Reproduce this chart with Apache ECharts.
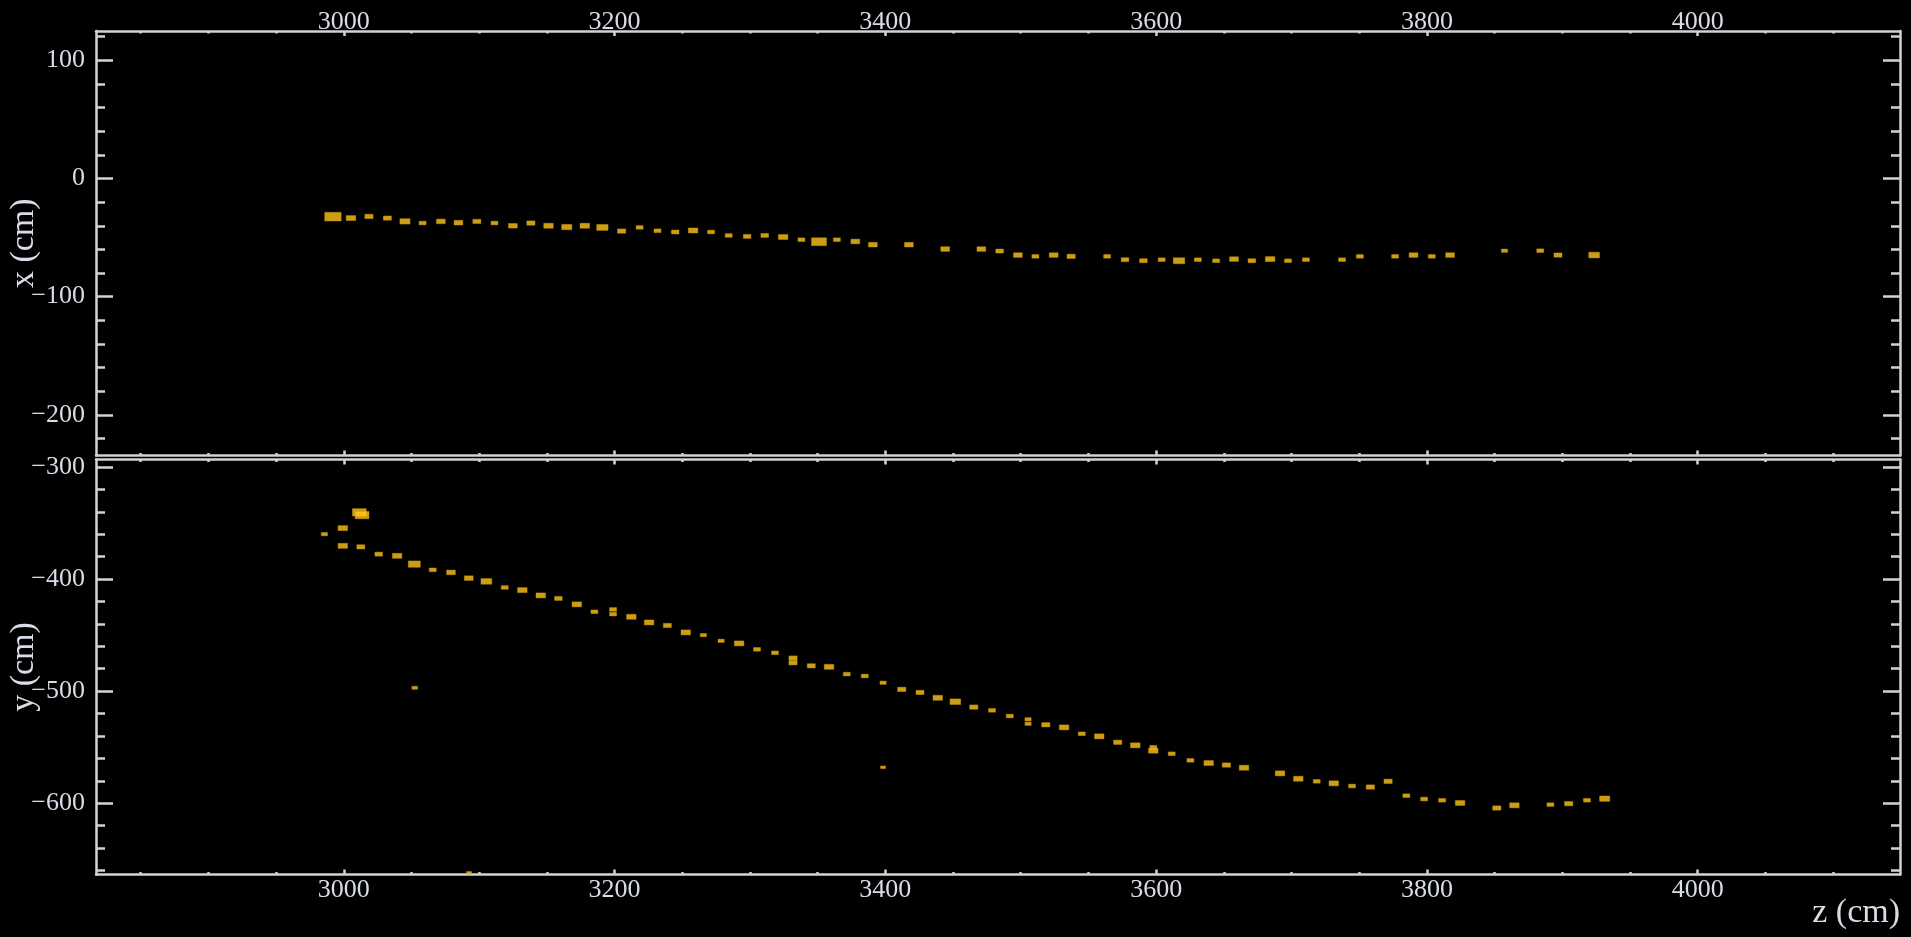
<!DOCTYPE html>
<html>
<head>
<meta charset="utf-8">
<script src="https://cdn.jsdelivr.net/npm/echarts@6/dist/echarts.min.js"></script>
<style>
  html, body { margin: 0; padding: 0; background: #000; }
  #chart { width: 1911px; height: 937px; }
</style>
</head>
<body>
<div id="chart"></div>
<script>
// Hits seen in the z–x view: z (cm), x (cm), relative charge
const xzZ = [2992.0, 3005.3, 3018.6, 3032.2, 3045.2, 3058.2, 3071.7, 3084.7, 3098.3, 3111.3,
             3124.9, 3138.2, 3151.2, 3164.7, 3178.0, 3191.0, 3205.2, 3218.5, 3231.7, 3244.8,
             3258.0, 3271.3, 3284.3, 3297.9, 3310.9, 3324.5, 3338.0, 3351.0, 3364.2, 3377.8,
             3390.8, 3417.4, 3444.2, 3470.9, 3484.4, 3497.9, 3510.8, 3524.3, 3537.2, 3563.8,
             3577.0, 3590.6, 3604.1, 3616.9, 3630.8, 3644.3, 3657.5, 3670.7, 3684.2, 3697.4,
             3710.6, 3737.3, 3750.5, 3776.5, 3790.1, 3803.6, 3817.1, 3857.3, 3883.7, 3896.8,
             3923.5];
const xzX = [-32.3, -33.5, -32.1, -33.5, -36.3, -37.7, -36.3, -37.4, -36.3, -37.7,
             -40.0, -37.7, -40.0, -41.1, -40.0, -41.4, -44.5, -41.4, -44.2, -45.3,
             -44.0, -45.3, -48.2, -49.0, -48.2, -49.5, -51.8, -53.5, -51.8, -53.3,
             -56.0, -56.0, -59.7, -59.7, -61.4, -64.8, -65.9, -64.8, -65.9, -65.9,
             -68.7, -69.6, -68.7, -69.6, -68.7, -69.6, -68.2, -69.6, -68.2, -69.6,
             -68.7, -68.7, -65.9, -65.9, -64.8, -65.9, -64.8, -61.1, -61.1, -64.8,
             -64.8];
const xzQ = [84, 28, 21, 20, 32, 15, 24, 24, 20, 15,
             24, 21, 28, 32, 28, 40, 21, 15, 15, 18,
             28, 15, 15, 18, 18, 28, 15, 70, 15, 24,
             24, 24, 24, 24, 18, 24, 15, 24, 21, 15,
             18, 18, 15, 40, 15, 15, 24, 18, 28, 15,
             15, 15, 15, 15, 24, 15, 24, 12, 15, 20,
             36];

// Hits seen in the z–y view: z (cm), y (cm), relative charge
const yzZ = [2985.7, 2999.3, 3011.5, 3013.5, 2999.3, 3012.6, 3025.8, 3039.4, 3052.1, 3065.7,
             3079.2, 3092.3, 3105.3, 3118.9, 3131.9, 3145.5, 3158.5, 3172.1, 3185.1, 3198.9,
             3198.9, 3212.4, 3225.5, 3239.0, 3252.6, 3265.6, 3278.7, 3292.0, 3305.2, 3318.5,
             3331.8, 3331.8, 3345.3, 3358.4, 3371.5, 3384.8, 3398.3, 3412.1, 3425.6, 3438.7,
             3451.7, 3465.3, 3478.8, 3491.9, 3505.4, 3505.4, 3518.5, 3532.0, 3545.1, 3558.0,
             3571.6, 3584.6, 3597.9, 3597.9, 3611.5, 3625.3, 3638.8, 3651.9, 3664.9, 3691.5,
             3705.0, 3718.6, 3731.2, 3744.7, 3758.2, 3771.3, 3784.8, 3797.9, 3811.2, 3824.5,
             3851.6, 3864.6, 3891.2, 3904.7, 3918.2, 3931.3, 3052.4, 3398.3, 3092.5];
const yzY = [-360.0, -354.6, -340.5, -343.0, -370.4, -371.3, -377.8, -379.3, -386.7, -391.8,
             -394.1, -399.2, -402.1, -407.5, -409.9, -414.6, -417.3, -422.6, -429.2, -427.1,
             -431.3, -433.7, -438.7, -441.4, -447.6, -450.0, -455.1, -457.4, -462.7, -465.8,
             -470.5, -474.7, -477.4, -478.3, -484.8, -486.5, -492.5, -498.4, -501.1, -505.9,
             -509.4, -514.2, -517.1, -522.2, -525.1, -529.1, -530.0, -532.3, -538.0, -540.3,
             -545.6, -548.3, -550.1, -553.1, -555.8, -561.7, -564.1, -565.9, -568.3, -573.3,
             -578.1, -580.4, -582.2, -584.6, -585.5, -580.4, -593.2, -596.2, -597.3, -599.7,
             -604.2, -601.8, -601.2, -600.3, -597.3, -595.9, -497.0, -567.9, -662.0];
const yzQ = [12, 28, 60, 60, 28, 20, 18, 28, 45, 15,
             24, 24, 36, 15, 28, 28, 18, 28, 15, 15,
             15, 28, 28, 20, 28, 12, 12, 28, 15, 15,
             21, 21, 20, 28, 15, 15, 12, 21, 20, 28,
             35, 21, 15, 15, 12, 12, 21, 28, 15, 28,
             21, 28, 15, 28, 15, 15, 28, 21, 28, 28,
             28, 15, 28, 15, 21, 21, 15, 15, 15, 28,
             21, 28, 15, 21, 15, 32, 10, 8, 8];

// Axis ranges and ticks
const zRange = [2817, 4149.4];
const xRange = [-234.4, 124.8];
const yRange = [-663.5, -293.4];
const zLabels = [3000, 3200, 3400, 3600, 3800, 4000];
const xLabels = [-200, -100, 0, 100];
const yLabels = [-600, -500, -400, -300];

function minorTicks(range, step, major) {
  const out = [];
  for (let v = Math.ceil(range[0] / step) * step; v <= range[1]; v += step) {
    if (major.indexOf(v) < 0) out.push(v);
  }
  return out;
}

const FRAME = '#d2d2d2';
const TEXT = '#d8dce6';
const FONT = 'Liberation Serif';

function fmt(v) { return String(v).replace('-', '\u2212'); }

// One side of a panel frame: either the major ticks (with line and labels) or the minor ticks only.
function makeAxis(gridIndex, position, range, ticks, opts) {
  const major = opts.major;
  const a = {
    type: 'value',
    gridIndex: gridIndex,
    position: position,
    min: range[0],
    max: range[1],
    splitLine: { show: false },
    axisLine: { show: major, onZero: false, lineStyle: { color: FRAME, width: 2.5 } },
    axisTick: {
      show: true, inside: true, customValues: ticks,
      length: opts.tickLen,
      lineStyle: { color: FRAME, width: 2.5 }
    },
    axisLabel: {
      show: !!opts.labels,
      customValues: ticks,
      formatter: fmt,
      color: TEXT,
      fontFamily: FONT,
      fontSize: 26,
      margin: opts.margin || 8
    }
  };
  if (opts.name) Object.assign(a, opts.name);
  return a;
}

const zMinor = minorTicks(zRange, 50, zLabels);
const xMinor = minorTicks(xRange, 20, xLabels);
const yMinor = minorTicks(yRange, 20, yLabels);

const xAxes = [
  makeAxis(0, 'top', zRange, zLabels, { major: true, tickLen: 5, labels: true, margin: -4 }),
  makeAxis(0, 'top', zRange, zMinor, { major: false, tickLen: 2.5 }),
  makeAxis(0, 'bottom', zRange, zLabels, { major: true, tickLen: 5 }),
  makeAxis(0, 'bottom', zRange, zMinor, { major: false, tickLen: 2.5 }),
  makeAxis(1, 'top', zRange, zLabels, { major: true, tickLen: 5 }),
  makeAxis(1, 'top', zRange, zMinor, { major: false, tickLen: 2.5 }),
  makeAxis(1, 'bottom', zRange, zLabels, {
    major: true, tickLen: 5, labels: true, margin: 3,
    name: {
      name: 'z (cm)', nameLocation: 'end', nameGap: 0, nameMoveOverlap: false,
      nameTextStyle: { color: TEXT, fontFamily: FONT, fontSize: 34, align: 'right', verticalAlign: 'top', padding: [22, 0, 0, 0] }
    }
  }),
  makeAxis(1, 'bottom', zRange, zMinor, { major: false, tickLen: 2.5 })
];

function nameLeft(text) {
  return {
    name: text, nameLocation: 'middle', nameGap: 55, nameRotate: 90, nameMoveOverlap: false,
    nameTextStyle: { color: TEXT, fontFamily: FONT, fontSize: 34 }
  };
}

const yAxes = [
  makeAxis(0, 'left', xRange, xLabels, { major: true, tickLen: 17, labels: true, margin: 11, name: nameLeft('x (cm)') }),
  makeAxis(0, 'left', xRange, xMinor, { major: false, tickLen: 9 }),
  makeAxis(0, 'right', xRange, xLabels, { major: true, tickLen: 17 }),
  makeAxis(0, 'right', xRange, xMinor, { major: false, tickLen: 9 }),
  makeAxis(1, 'left', yRange, yLabels, { major: true, tickLen: 17, labels: true, margin: 11, name: nameLeft('y (cm)') }),
  makeAxis(1, 'left', yRange, yMinor, { major: false, tickLen: 9 }),
  makeAxis(1, 'right', yRange, yLabels, { major: true, tickLen: 17 }),
  makeAxis(1, 'right', yRange, yMinor, { major: false, tickLen: 9 })
];

// Rectangle size grows with the hit charge
function hitSize(d) {
  const q = d[2] * 1.7;
  const w = Math.sqrt(1.9 * q);
  return [w, q / w];
}

const hitStyle = { color: '#ffc61a', borderColor: '#d49a00', borderWidth: 0.5 };

const chart = echarts.init(document.getElementById('chart'), null, { renderer: 'canvas' });
chart.setOption({
  backgroundColor: '#000000',
  animation: false,
  grid: [
    { left: 96, right: 11, top: 31, height: 424.5, outerBoundsMode: 'none' },
    { left: 96, right: 11, top: 459.5, height: 415, outerBoundsMode: 'none' }
  ],
  xAxis: xAxes,
  yAxis: yAxes,
  series: [
    {
      type: 'scatter', xAxisIndex: 0, yAxisIndex: 0,
      symbol: 'rect', symbolSize: hitSize, itemStyle: hitStyle,
      data: xzZ.map((z, i) => [z, xzX[i], xzQ[i]])
    },
    {
      type: 'scatter', xAxisIndex: 6, yAxisIndex: 4,
      symbol: 'rect', symbolSize: hitSize, itemStyle: hitStyle,
      data: yzZ.map((z, i) => [z, yzY[i], yzQ[i]])
    }
  ]
});
</script>
</body>
</html>
